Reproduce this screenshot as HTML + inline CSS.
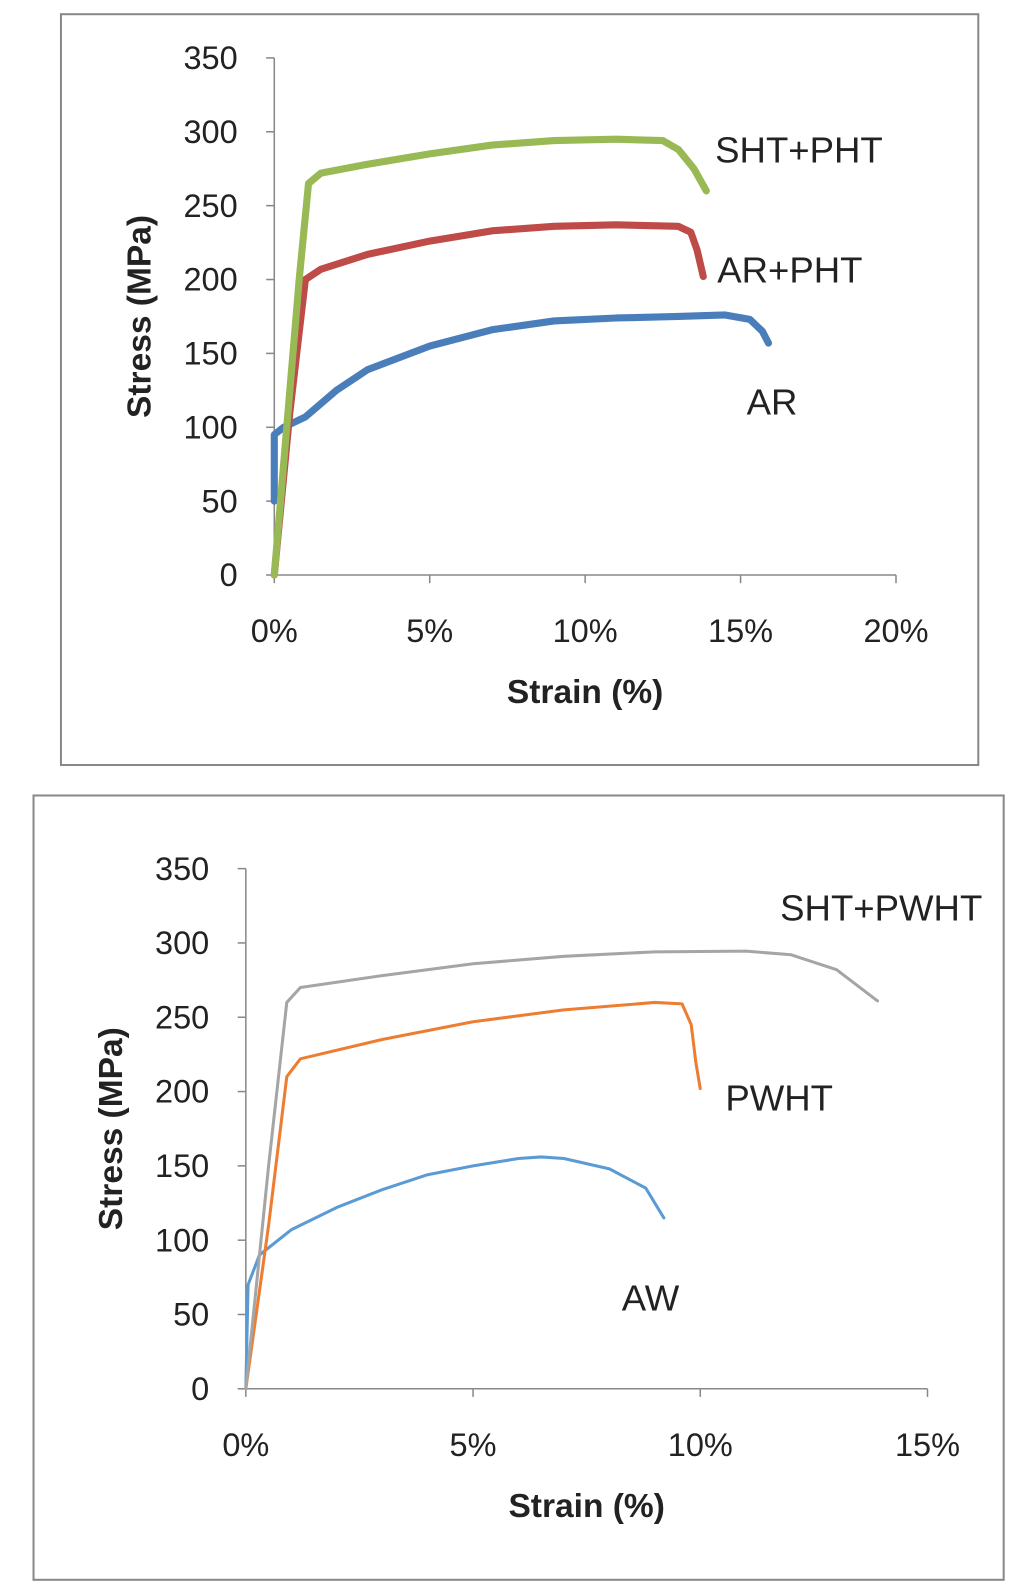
<!DOCTYPE html>
<html><head><meta charset="utf-8"><style>
html,body{margin:0;padding:0;background:#fff;}
svg{display:block;font-family:"Liberation Sans",sans-serif;}
</style></head><body>
<svg id="s" width="1024" height="1593" viewBox="0 0 1008 1568" preserveAspectRatio="none">
<rect x="60" y="14" width="903" height="739" fill="none" stroke="#888" stroke-width="2"/>
<rect x="33" y="783" width="955" height="772" fill="none" stroke="#888" stroke-width="2"/>
<g id="g1"></g>
<g id="g2"></g>
</svg>
<script>
const yTicks=[0,50,100,150,200,250,300,350];
const xTicks1=[0,5,10,15,20];
const xTicks2=[0,5,10,15];
const shtPhtX=[0,0.8,1.1,1.5,3,5,7,9,11,12.5,13,13.5,13.9];
const shtPhtY=[0,200,265,272,278,285,291,294,295,294,288,275,260];
const arPhtX=[0,0.5,1,1.5,3,5,7,9,11,13,13.4,13.6,13.8];
const arPhtY=[0,110,200,207,217,226,233,236,237,236,232,220,202];
const arX=[0,0,0.3,1,2,3,5,7,9,11,13,14.5,15.3,15.7,15.9];
const arY=[50,95,100,107,125,139,155,166,172,174,175,176,173,165,157];
const shtPwhtX=[0,0.5,0.9,1.2,3,5,7,9,11,12,13,13.9];
const shtPwhtY=[0,150,260,270,278,286,291,294,294.5,292,282,261];
const pwhtX=[0,0.5,0.9,1.2,3,5,7,9,9.6,9.8,9.9,10];
const pwhtY=[0,110,210,222,235,247,255,260,259,245,220,202];
const awX=[0,0.05,0.3,1,2,3,4,5,6,6.5,7,8,8.8,9.2];
const awY=[0,70,90,107,122,134,144,150,155,156,155,148,135,115];
const NS="http://www.w3.org/2000/svg";
function mk(p,t,a){const e=document.createElementNS(NS,t);for(const k in a)e.setAttribute(k,a[k]);p.appendChild(e);return e;}
function chart(g,c){
 const sx=v=>c.x0+(v-c.xmin)/(c.xmax-c.xmin)*(c.x1-c.x0);
 const sy=v=>c.y0-(v/350)*(c.y0-c.y1);
 let ax=mk(g,'line',{x1:c.x0,x2:c.x0,y1:c.y1,y2:c.y0,stroke:'#888','stroke-width':1.5});
 
 
 let bx=mk(g,'line',{x1:c.x0,x2:c.x1,y1:c.y0,y2:c.y0,stroke:'#888','stroke-width':1.5});
 
 
 yTicks.forEach(v=>{
  mk(g,'line',{x1:c.x0-8,x2:c.x0,y1:sy(v),y2:sy(v),stroke:'#888','stroke-width':1.5});
  const t=mk(g,'text',{x:c.x0-36,y:sy(v)+11,'text-anchor':'end','font-size':32,fill:'#222'});
  t.textContent=v;
  
  
 });
 c.xt.forEach(v=>{
  mk(g,'line',{x1:sx(v),x2:sx(v),y1:c.y0,y2:c.y0+8,stroke:'#888','stroke-width':1.5});
  const t=mk(g,'text',{x:sx(v),y:c.y0+66,'text-anchor':'middle','font-size':32,fill:'#222'});
  t.textContent=v+'%';
  
  
 });
 const xt=mk(g,'text',{x:(c.x0+c.x1)/2,y:c.y0+126,'text-anchor':'middle','font-size':33,'font-weight':'bold',fill:'#222'});
 xt.textContent='Strain (%)';
 
 
 const yx=c.x0-122, ym=(c.y0+c.y1)/2;
 const yt=mk(g,'text',{x:yx,y:ym,'text-anchor':'middle','font-size':33,'font-weight':'bold',fill:'#222',transform:`rotate(-90 ${yx} ${ym})`});
 yt.textContent='Stress (MPa)';
 
 
 c.series.forEach(s=>{
  const d=s.x.map((v,i)=>(i?'L':'M')+sx(v).toFixed(1)+','+sy(s.y[i]).toFixed(1)).join('');
  const p=mk(g,'path',{d:d,fill:'none',stroke:s.col,'stroke-width':s.w,'stroke-linejoin':'round','stroke-linecap':'round'});
  
  
  const t=mk(g,'text',{x:s.lx,y:s.ly,'font-size':36,fill:'#222'});
  t.textContent=s.label;
  
  
 });
}
chart(document.getElementById('g1'),{x0:270,x1:882,y0:566,y1:57,xmin:0,xmax:20,xt:xTicks1,series:[
 {x:arX,y:arY,col:'#4a7ebb',w:7,name:'ar',label:'AR',lx:735,ly:408},
 {x:arPhtX,y:arPhtY,col:'#be4b48',w:7,name:'ar-pht',label:'AR+PHT',lx:706,ly:278},
 {x:shtPhtX,y:shtPhtY,col:'#98b954',w:7,name:'sht-pht',label:'SHT+PHT',lx:704,ly:160}]});
chart(document.getElementById('g2'),{x0:242,x1:913,y0:1367,y1:855,xmin:0,xmax:15,xt:xTicks2,series:[
 {x:awX,y:awY,col:'#5b9bd5',w:3,name:'aw',label:'AW',lx:612,ly:1290},
 {x:pwhtX,y:pwhtY,col:'#ed7d31',w:3,name:'pwht',label:'PWHT',lx:714,ly:1093},
 {x:shtPwhtX,y:shtPwhtY,col:'#a5a5a5',w:3,name:'sht-pwht',label:'SHT+PWHT',lx:768,ly:906}]});
</script>
</body></html>
